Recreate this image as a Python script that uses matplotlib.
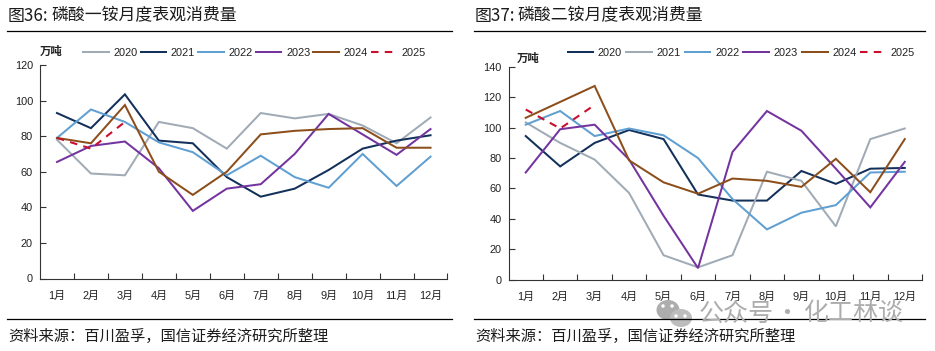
import matplotlib
matplotlib.use("Agg")
import matplotlib.pyplot as plt
from matplotlib.patches import Ellipse
from matplotlib.lines import Line2D

W, H = 935, 351
CJK = ['Noto Sans CJK SC', 'DejaVu Sans']
LAT = ['Liberation Sans', 'Noto Sans CJK SC', 'DejaVu Sans']
plt.rcParams['font.family'] = LAT

months = ['1月', '2月', '3月', '4月', '5月', '6月', '7月', '8月', '9月', '10月', '11月', '12月']
years = ['2020', '2021', '2022', '2023', '2024', '2025']

map_2020 = [78, 59, 58, 88, 84.5, 73, 93, 90, 92.5, 86, 76, 90.5]
map_2021 = [93, 84.5, 103.5, 77.5, 76, 57, 46, 50.5, 61, 73, 77.5, 80.5]
map_2022 = [79, 95, 88, 76.5, 71, 58, 69, 57, 51, 70, 52, 68.5]
map_2023 = [65.5, 74.5, 77, 62, 38, 50.5, 53, 70, 92.5, 81, 69.5, 84]
map_2024 = [79, 76, 97.5, 60, 47, 60, 81, 83, 84, 84.5, 73.5, 73.5]
map_2025 = [79, 73, 88]

dap_2020 = [94.5, 74.5, 90, 98.5, 92.5, 56, 52, 52, 71.5, 63, 73, 73.5]
dap_2021 = [103.5, 90, 79, 57, 16, 8, 16, 71, 65, 35, 92.5, 99.5]
dap_2022 = [102, 111, 94.5, 99.5, 95, 80, 53, 33, 44, 49, 70.5, 71]
dap_2023 = [70.5, 99, 102, 79, 42, 7.5, 84, 111, 98, 73, 47.5, 77.5]
dap_2024 = [106.5, 117, 127.5, 78.5, 64, 56.5, 66.5, 65, 61, 79.5, 57.5, 92.5]
dap_2025 = [112, 99.5, 115]

source_note = '资料来源\uff1a百川盈孚\uff0c国信证券经济研究所整理'

GRAY, NAVY, BLUE, PURPLE, BROWN, RED = '#A0ABB6', '#12305A', '#5F9FD2', '#7434A0', '#8C4F1C', '#C8102E'
TXT = '#222222'

fig = plt.figure(figsize=(W / 100, H / 100), dpi=100, facecolor='white')


def fx(x):
    return x / W


def fy(y):
    return 1 - y / H


def panel(box, ymax, step, series, colors, fig_no, title, rule, title_x, unit_xy, leg_xy, leg_sp):
    l, t, r, b = box
    ax = fig.add_axes([fx(l), fy(b), (r - l) / W, (b - t) / H])
    xs = [i + 0.5 for i in range(12)]
    for s, c, y in zip(series, colors, years):
        if y == '2025':
            ax.plot(xs[:len(s)], s, color=c, lw=1.5, dashes=(3.6, 3.0), label=y, zorder=5)
        else:
            ax.plot(xs[:len(s)], s, color=c, lw=1.45, label=y, solid_joinstyle='miter')
    ax.set_xlim(0, 12)
    ax.set_ylim(0, ymax)
    for sp in ('top', 'right'):
        ax.spines[sp].set_visible(False)
    for sp in ('left', 'bottom'):
        ax.spines[sp].set_color('#333333')
        ax.spines[sp].set_linewidth(0.8)
    ax.set_yticks(range(0, ymax + 1, step))
    ax.tick_params(axis='y', direction='in', length=4, width=0.8, color='#333333',
                   labelsize=7.9, labelcolor=TXT, pad=5)
    ax.set_xticks(range(1, 13))
    ax.set_xticklabels([])
    ax.tick_params(axis='x', which='major', direction='in', length=4, width=0.8, color='#333333')
    ax.set_xticks(xs, minor=True)
    ax.set_xticklabels(months, minor=True, fontsize=7.9, color=TXT)
    ax.tick_params(axis='x', which='minor', length=0, pad=9)
    handles, labels = ax.get_legend_handles_labels()
    fig.legend(handles, labels, loc='center left', ncol=6, frameon=False,
               bbox_to_anchor=(fx(leg_xy[0]), fy(leg_xy[1])), borderpad=0, borderaxespad=0,
               fontsize=7.9, labelcolor=TXT, handlelength=2.35, handletextpad=0.42,
               columnspacing=leg_sp)
    fig.text(fx(rule[0] + 1), fy(15.5), fig_no, family=CJK, fontsize=12.2, color='#1c1c1c',
             va='center', ha='left')
    fig.text(fx(title_x), fy(15.5), title, family=CJK, fontsize=12.2, color='#1c1c1c',
             va='center', ha='left')
    fig.add_artist(Line2D([fx(rule[0]), fx(rule[1])], [fy(30.5)] * 2, color='black', lw=0.9))
    fig.add_artist(Line2D([fx(rule[0]), fx(rule[1])], [fy(318.5)] * 2, color='black', lw=0.9))
    fig.text(fx(rule[0] + 1), fy(336), source_note, family=CJK,
             fontsize=11, color='#1c1c1c', va='center', ha='left')
    fig.text(fx(unit_xy[0]), fy(unit_xy[1]), '万吨', family=CJK, fontsize=8.2, weight='bold',
             color=TXT, va='center', ha='left')
    return ax


panel((40, 65, 447.5, 278.5), 120, 20,
      [map_2020, map_2021, map_2022, map_2023, map_2024, map_2025],
      [GRAY, NAVY, BLUE, PURPLE, BROWN, RED],
      '图36:', '磷酸一铵月度表观消费量', (7, 452), 52, (40, 51), (83, 53), 0.27)
panel((508.5, 67, 922, 279.5), 140, 20,
      [dap_2020, dap_2021, dap_2022, dap_2023, dap_2024, dap_2025],
      [NAVY, GRAY, BLUE, PURPLE, BROWN, RED],
      '图37:', '磷酸二铵月度表观消费量', (474, 925), 518, (516.5, 58), (567.5, 53), 0.36)

# watermark
WM = '#adadad'
fig.add_artist(Ellipse((fx(668), fy(310)), 23 / W, 20 / H, color=WM, lw=0))
fig.add_artist(Ellipse((fx(681), fy(318)), 22 / W, 18 / H, color='#bdbdbd', lw=0))
for ex, ey in ((663, 306), (672, 306), (676, 316), (685, 316)):
    fig.add_artist(Ellipse((fx(ex), fy(ey)), 3.5 / W, 3.5 / H, color='white', lw=0))
fig.text(fx(699), fy(313.5), '公众号', family=CJK, fontsize=18, color=WM, va='center', ha='left')
fig.text(fx(787), fy(313.5), '·', family=CJK, fontsize=18, color=WM, va='center', ha='center')
fig.text(fx(804), fy(313.5), '化工林谈', family=CJK, fontsize=18, color=WM, va='center', ha='left')

fig.savefig('out.png', dpi=100)
